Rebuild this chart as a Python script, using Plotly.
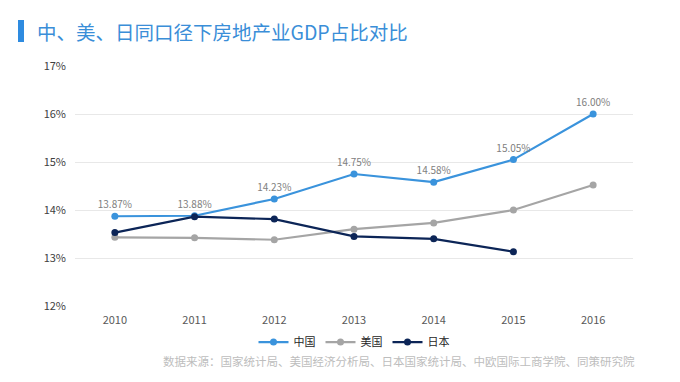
import plotly.graph_objects as go

years = ["2010", "2011", "2012", "2013", "2014", "2015", "2016"]
china = [13.87, 13.88, 14.23, 14.75, 14.58, 15.05, 16.00]
usa = [13.43, 13.42, 13.38, 13.60, 13.73, 14.00, 14.52]
japan = [13.53, 13.86, 13.81, 13.45, 13.40, 13.13]
china_labels = [f"{v:.2f}%" for v in china]
y_ticks = [12, 13, 14, 15, 16, 17]
y_tick_text = [f"{t}%" for t in y_ticks]

title_text = "中、美、日同口径下房地产业GDP占比对比"
source_text = "数据来源：国家统计局、美国经济分析局、日本国家统计局、中欧国际工商学院、同策研究院"

FONT = "Noto Sans CJK SC, Noto Sans, sans-serif"

fig = go.Figure()
fig.add_trace(go.Scatter(
    x=years, y=china, name="中国", mode="lines+markers+text",
    line=dict(color="#3a93dc", width=2.2), marker=dict(size=7, color="#3a93dc"),
    text=china_labels, textposition="top center",
    textfont=dict(size=10, color="#808080", family=FONT),
))
fig.add_trace(go.Scatter(
    x=years, y=usa, name="美国", mode="lines+markers",
    line=dict(color="#a5a5a5", width=2.2), marker=dict(size=7, color="#a5a5a5"),
))
fig.add_trace(go.Scatter(
    x=years[:len(japan)], y=japan, name="日本", mode="lines+markers",
    line=dict(color="#0c2557", width=2.2), marker=dict(size=7, color="#0c2557"),
))

fig.update_layout(
    width=680, height=382,
    margin=dict(l=67, r=55, t=58, b=84),
    paper_bgcolor="white", plot_bgcolor="white",
    font=dict(family=FONT, color="#404040"),
    showlegend=True,
    legend=dict(orientation="h", x=0.5, xanchor="center", y=-0.09, yanchor="top",
                font=dict(size=11, color="#262626", family=FONT),
                itemwidth=30, tracegroupgap=0, itemclick=False),
    xaxis=dict(type="category", range=[-0.5, 6.5], showgrid=False, zeroline=False,
               showline=False, ticks="", ticklabelstandoff=6,
               tickfont=dict(size=11, color="#595959")),
    yaxis=dict(range=[12, 17], tickvals=y_ticks, ticktext=y_tick_text,
               showgrid=True, gridcolor="#e8e8e8", gridwidth=1, zeroline=False,
               showline=False, ticks="", ticklabelstandoff=8,
               tickfont=dict(size=11, color="#404040")),
)

fig.add_shape(type="rect", xref="paper", yref="paper",
              x0=-57/558, x1=-51/558, y0=1 + 24/240, y1=1 + 46/240,
              fillcolor="#2e8be0", line=dict(width=0))
fig.add_annotation(text=title_text, xref="paper", yref="paper",
                   x=-40/558, y=1 + 35/240, xanchor="left", yanchor="middle",
                   showarrow=False, font=dict(size=19.5, color="#3a8ed8", family=FONT))
fig.add_annotation(text=source_text, xref="paper", yref="paper",
                   x=1 + 4/558, y=-55/240, xanchor="right", yanchor="middle",
                   showarrow=False, font=dict(size=11.5, color="#bdbdbd", family=FONT))

fig.write_html("out.html")
